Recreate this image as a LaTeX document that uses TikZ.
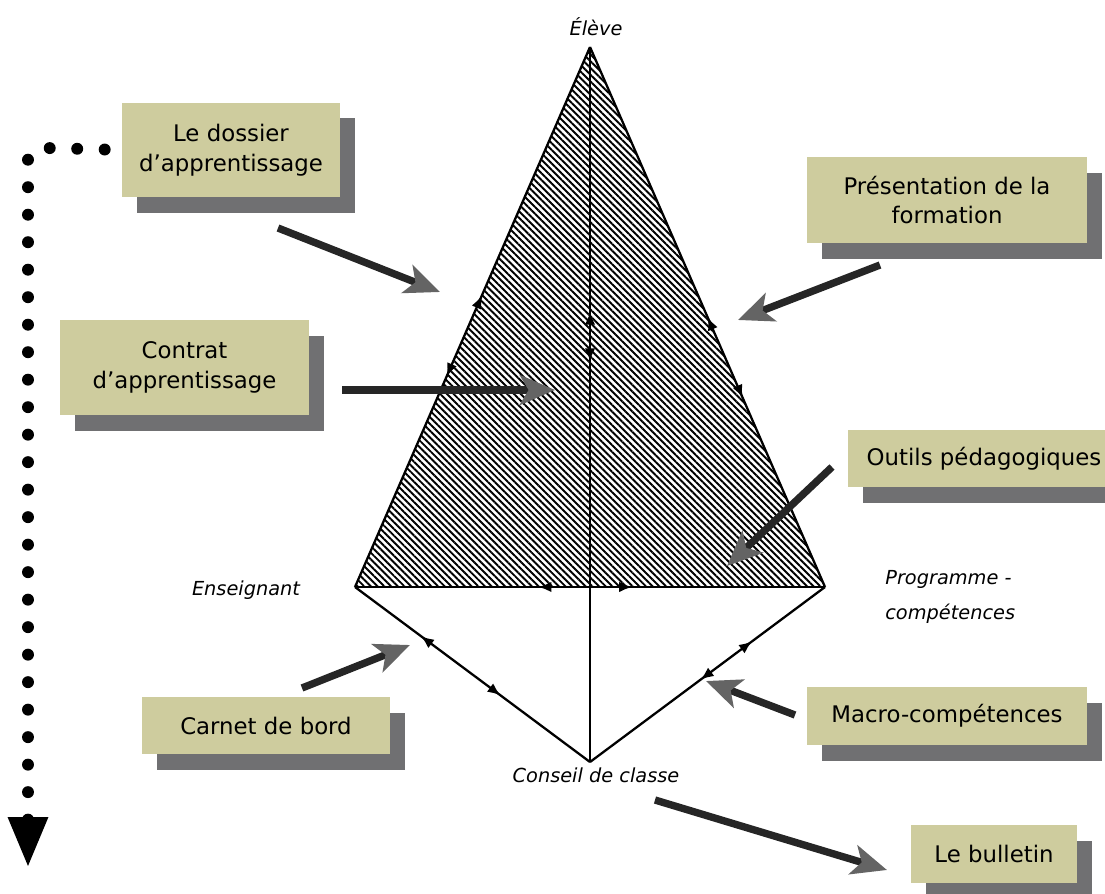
\documentclass[tikz,border=0pt]{standalone}
\usepackage{fontspec}
\setmainfont{DejaVu Sans}
\usetikzlibrary{arrows.meta,decorations.markings,patterns.meta,shadows}

\definecolor{boxkhaki}{RGB}{206,204,158}
\definecolor{shadowgray}{RGB}{112,112,114}
\definecolor{headgray}{RGB}{100,100,100}

\begin{document}
\begin{tikzpicture}[x=0.02cm, y=-0.02cm,
  infobox/.style={fill=boxkhaki, align=center, inner sep=0pt,
    font=\fontsize{13}{17}\selectfont,
    drop shadow={shadow xshift=8.5pt, shadow yshift=-9pt, fill=shadowgray, opacity=1}},
  corner/.style={font=\fontsize{11}{20}\selectfont\itshape, inner sep=0pt},
  edge/.style={line width=1.3pt},
  bigarrow/.style={line width=4.2pt, draw=black!85,
    -{Stealth[length=20pt, width=17pt, inset=5pt, color=headgray, fill=headgray]}},
  twoway/.style 2 args={postaction={decorate}, decoration={markings,
    mark=at position #1 with {\arrowreversed{Latex[length=7.5pt,width=6pt]}},
    mark=at position #2 with {\arrow{Latex[length=7.5pt,width=6pt]}}}}]

  \useasboundingbox (0,0) rectangle (1105,893);
  \clip (0,0) rectangle (1105,893);

  %% -- Triangle corners ----------------------------------------
  \coordinate (eleve) at (590,47);
  \coordinate (ens)   at (355,587);
  \coordinate (prog)  at (825,587);
  \coordinate (cons)  at (590,762);

  \path[pattern={Lines[angle=-45, distance=2.7pt, line width=1.1pt]}]
    (ens) -- (eleve) -- (prog) -- cycle;

  %% -- Edges, each with two opposite tips -----------------------
  \draw[edge, twoway={0.39}{0.54}] (ens) -- (eleve);
  \draw[edge, twoway={0.35}{0.50}] (prog) -- (eleve);
  \draw[edge, twoway={0.39}{0.59}] (ens) -- (prog);
  \draw[edge, line width=1.6pt, twoway={0.56}{0.63}] (cons) -- (eleve);
  \draw[edge, twoway={0.28}{0.62}] (ens) -- (cons);
  \draw[edge, twoway={0.31}{0.53}] (prog) -- (cons);

  %% -- Corner labels -------------------------------------------
  \node[corner] (eleve-l) at (596,27)  {Élève};
  \node[corner] (ens-l)   at (246,590) {Enseignant};
  \node[corner, anchor=west, align=left] (prog-l) at (885,597) {Programme -\\compétences};
  \node[corner] (cons-l)  at (596,775) {Conseil de classe};

  %% -- Boxes ---------------------------------------------------
  \node[infobox, minimum width=124pt,   minimum height=54pt]   (dossier) at (231,150)   {Le dossier\\d’apprentissage};
  \node[infobox, minimum width=141.7pt, minimum height=54pt]   (contrat) at (184.5,367.5) {Contrat\\d’apprentissage};
  \node[infobox, minimum width=159.3pt, minimum height=49pt]   (presen)  at (947,200)   {Présentation de la\\formation};
  \node[infobox, minimum width=155pt,   minimum height=32.4pt] (outils)  at (984,458.5) {Outils pédagogiques};
  \node[infobox, minimum width=141pt,   minimum height=32.4pt] (carnet)  at (266,725.5) {Carnet de bord};
  \node[infobox, minimum width=159.3pt, minimum height=33pt]   (macro)   at (947,716)   {Macro-compétences};
  \node[infobox, minimum width=94.5pt,  minimum height=33pt]   (bulletin) at (994,854)  {Le bulletin};

  %% -- Big arrows into the triangle ----------------------------
  \foreach \from/\fx/\fy/\tx/\ty in {
    dossier/278/228/440/292, presen/880/265/738/320, contrat/342/390/555/390,
    outils/832/467/727/566, carnet/302/688/410/645, macro/795/715/706/681,
    bulletin/655/800/887/870}{
    \coordinate (\from-out) at (\fx,\fy);
    \coordinate (\from-in)  at (\tx,\ty);
    \draw[bigarrow] (\from-out) -- (\from-in);
  }

  %% -- Dotted return line --------------------------------------
  \coordinate (loop-a)   at (50,148);
  \coordinate (loop-b)   at (28,155);
  \coordinate (loop-end) at (28,868);
  \draw[line width=6.8pt, line cap=round, dash pattern=on 0pt off 15.65pt,
        shorten <=9.7pt, -{Triangle[length=29pt, width=21pt]}]
    (dossier.west) -- (loop-a) -- (loop-b) -- (loop-end);
\end{tikzpicture}
\end{document}
